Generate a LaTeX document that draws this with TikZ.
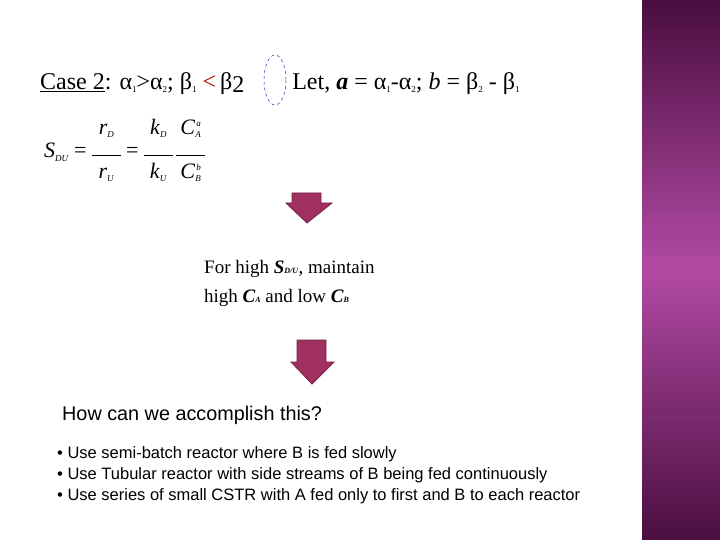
\documentclass[tikz,border=0pt]{standalone}
\usepackage{fontspec}
\setmainfont{Liberation Serif}
\setsansfont{Liberation Sans}
\definecolor{barDark}{HTML}{4A0E40}
\definecolor{barMid}{HTML}{B24AA4}
\definecolor{arrowFill}{HTML}{A0305F}
\definecolor{arrowEdge}{HTML}{7A2048}
\newcommand{\myit}[1]{\textit{#1}}
\newcommand{\myfrac}[2]{\begin{tabular}{@{}c@{}}#1\\[-3pt]\rule{1.3em}{0.6pt}\\[-1pt]#2\end{tabular}}
\tikzset{
  arrowstyle/.style={draw=arrowEdge, fill=arrowFill, line width=0.8pt},
  bul/.style={anchor=base west, font=\sffamily\fontsize{16.5}{19}\selectfont, inner sep=0pt},
  txt/.style={anchor=base west, inner sep=0pt, font=\fontsize{19}{22}\selectfont}
}
\begin{document}
\begin{tikzpicture}[x=1pt,y=-1pt]
\useasboundingbox (0,0) rectangle (720,540);
\fill[white] (0,0) rectangle (720,540);
\shade[top color=barDark, bottom color=barMid] (642,0) rectangle (720,270);
\shade[top color=barMid, bottom color=barDark] (642,270) rectangle (720,540);
\node[anchor=base west, inner sep=0pt, font=\fontsize{24}{28}\selectfont] (title) at (40,90)
 {\underline{Case 2}: α\raisebox{-3pt}{\small 1}>α\raisebox{-3pt}{\small 2}; β\raisebox{-3pt}{\small 1} \textcolor{red!70!black}{<}\,β\raisebox{-3pt}{2}\qquad Let, \textbf{\textit{a}} = α\raisebox{-3pt}{\small 1}-α\raisebox{-3pt}{\small 2}; \textit{b} = β\raisebox{-3pt}{\small 2} - β\raisebox{-3pt}{\small 1}};
\draw[blue!60!black, dashed, thin] (275,80) ellipse (11 and 25);
\node[anchor=west, inner sep=0pt, font=\fontsize{22}{24}\selectfont] (eq) at (44,152)
 {\myit{S}\raisebox{-4pt}{\small\myit{DU}} = \myfrac{\myit{r}\raisebox{-3pt}{\small\myit{D}}}{\myit{r}\raisebox{-3pt}{\small\myit{U}}} = \myfrac{\myit{k}\raisebox{-3pt}{\small\myit{D}}}{\myit{k}\raisebox{-3pt}{\small\myit{U}}}\,\myfrac{\myit{C}\raisebox{-3pt}{\small\myit{A}}\llap{\raisebox{8pt}{\small\myit{a}}}}{\myit{C}\raisebox{-3pt}{\small\myit{B}}\llap{\raisebox{8pt}{\small\myit{b}}}}};
\draw[arrowstyle] (292,193) -- (321,193) -- (321,203) -- (332,203) -- (307,223) -- (286,203) -- (292,203) -- cycle;
\node (a1) at (307,208) {};
\node[txt] (t1) at (204,273) {For high \textbf{\textit{S\footnotesize D/U}}, maintain};
\node[txt] (t2) at (204,302) {high \textbf{\textit{C\footnotesize A}} and low \textbf{\textit{C\footnotesize B}}};
\draw[arrowstyle] (297,340) -- (326,340) -- (326,362) -- (334,362) -- (312,384) -- (291,362) -- (297,362) -- cycle;
\node (a2) at (312,362) {};
\node[anchor=base west, inner sep=0pt, font=\sffamily\fontsize{19.8}{23}\selectfont] (q) at (62,420) {How can we accomplish this?};
\node[bul] (b1) at (57,458) {\textbullet\ Use semi-batch reactor where B is fed slowly};
\node[bul] (b2) at (57,479) {\textbullet\ Use Tubular reactor with side streams of B being fed continuously};
\node[bul] (b3) at (57,500) {\textbullet\ Use series of small CSTR with A fed only to first and B to each reactor};
\end{tikzpicture}
\end{document}
